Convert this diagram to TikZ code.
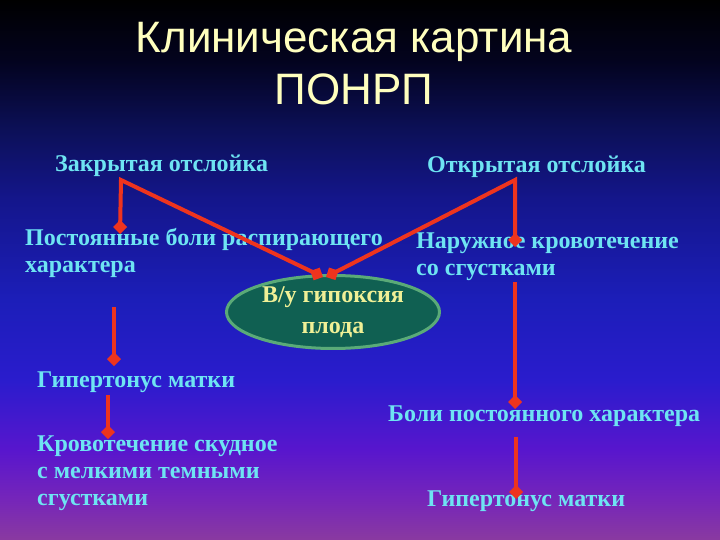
\documentclass[tikz,border=0pt]{standalone}
\usepackage{fontspec}
\setmainfont{Liberation Serif}
\newfontfamily\titlefont{Liberation Sans}
\usetikzlibrary{arrows.meta,shapes.geometric}
\definecolor{bgA}{RGB}{0,0,0}
\definecolor{bgB}{RGB}{3,3,30}
\definecolor{bgC}{RGB}{12,16,88}
\definecolor{bgD}{RGB}{20,22,140}
\definecolor{bgE}{RGB}{28,30,185}
\definecolor{bgF}{RGB}{42,28,205}
\definecolor{bgG}{RGB}{88,22,205}
\definecolor{bgH}{RGB}{118,38,185}
\definecolor{bgI}{RGB}{138,58,160}
\definecolor{titleyellow}{RGB}{255,255,190}
\definecolor{bodycyan}{RGB}{110,228,242}
\definecolor{linered}{RGB}{238,52,30}
\definecolor{ellfill}{RGB}{16,96,82}
\definecolor{elldraw}{RGB}{90,170,120}
\definecolor{elltext}{RGB}{240,240,150}
\pgfdeclareverticalshading{slidebg}{100bp}{color(0bp)=(bgI); color(25bp)=(bgI); color(28.7bp)=(bgH); color(33.33bp)=(bgG); color(39.81bp)=(bgF); color(47.22bp)=(bgE); color(56.48bp)=(bgD); color(62.96bp)=(bgC); color(69.44bp)=(bgB); color(75bp)=(bgA); color(100bp)=(bgA)}
\tikzset{
  titletxt/.style={font=\titlefont\fontsize{44}{52}\selectfont, text=titleyellow, inner sep=0pt, align=center},
  bodytxt/.style={font=\bfseries\fontsize{24}{27}\selectfont, text=bodycyan, inner sep=0pt, anchor=base west, align=left},
  link/.style={draw=linered, line width=4pt, line join=miter},
  dtip/.style={-{Diamond[length=14pt,width=14pt]}},
  ddtip/.style={{Diamond[length=14pt,width=14pt]}-{Diamond[length=14pt,width=14pt]}},
  hypox/.style={ellipse, fill=ellfill, draw=elldraw, line width=3pt, minimum width=213pt, minimum height=73pt, inner sep=0pt, text=elltext, font=\bfseries\fontsize{24}{31}\selectfont, align=center}
}
\begin{document}
\begin{tikzpicture}[x=1pt,y=-1pt]
\useasboundingbox (0,0) rectangle (720,540);
\shade[shading=slidebg] (0,0) rectangle (720,540);
\node[titletxt, anchor=base] (title) at (354,105) {Клиническая картина\\ПОНРП};
\node[bodytxt] (zakr) at (55,172) {Закрытая отслойка};
\node[bodytxt] (otkr) at (427,173) {Открытая отслойка};
\node[bodytxt] (post) at (25,272) {Постоянные боли распирающего\\характера};
\node[bodytxt] (naruzh) at (416,275) {Наружное кровотечение\\со сгустками};
\node[hypox] (hyp) at (333,312) {В/у гипоксия\\плода};
\node[bodytxt] (giperL) at (37,387) {Гипертонус матки};
\node[bodytxt] (krov) at (37,505) {Кровотечение скудное\\с мелкими темными\\сгустками};
\node[bodytxt] (boli) at (388,421) {Боли постоянного характера};
\node[bodytxt] (giperR) at (427,506) {Гипертонус матки};
\coordinate (zk) at (121,180);
\coordinate (ok) at (515,180);
\coordinate (postE) at (120,234);
\coordinate (hypE1) at (323,277);
\coordinate (hypE2) at (326,277);
\coordinate (naruzhE) at (515,247);
\coordinate (l1s) at (114,307);
\coordinate (l1e) at (114,366);
\coordinate (l2s) at (108,395);
\coordinate (l2e) at (108,439);
\coordinate (r1s) at (515,282);
\coordinate (r1e) at (515,409);
\coordinate (r2s) at (516,437);
\coordinate (r2e) at (516,499);
\draw[link, ddtip] (postE) -- (zk) -- (hypE1);
\draw[link, ddtip] (naruzhE) -- (ok) -- (hypE2);
\draw[link, dtip] (l1s) -- (l1e);
\draw[link, dtip] (l2s) -- (l2e);
\draw[link, dtip] (r1s) -- (r1e);
\draw[link, dtip] (r2s) -- (r2e);
\end{tikzpicture}
\end{document}
